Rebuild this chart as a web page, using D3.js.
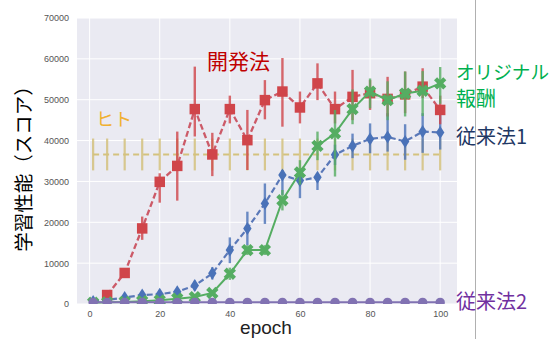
<!DOCTYPE html>
<html><head><meta charset="utf-8">
<script src="https://cdn.jsdelivr.net/npm/d3@7"></script>
<style>body{margin:0;background:#fff}svg{display:block}</style>
</head><body><svg id="c" width="552" height="339"></svg>
<script>
const epochs = [1,5,10,15,20,25,30,35,40,45,50,55,60,65,70,75,80,85,90,95,100];
const xTicks = [0,20,40,60,80,100];
const yTicks = [0,10000,20000,30000,40000,50000,60000,70000];

// 開発法 (red squares)
const devMean = [null,2200,7600,18500,29900,33800,47700,36600,47700,40100,49900,52000,48100,54000,47700,50700,51600,50200,51300,53200,47500];
const devLo   = [null,1700,7100,15700,24800,25300,41000,31300,44200,32800,45200,43400,44200,49900,44200,45000,47500,45900,46700,50400,44000];
const devHi   = [null,2700,8100,21400,32000,42200,58100,41900,51000,47500,54800,60200,52000,58900,52000,57300,54800,55600,56900,57700,51000];

// オリジナル報酬 (green X)
const origMean = [300,400,500,700,900,1300,1700,2700,7400,13200,13200,25400,32200,38700,41800,47700,52000,49900,51500,52200,54000];
const origLo   = [100,200,300,400,600,900,1300,2000,5900,12000,12000,22900,29200,35200,31200,44000,47900,45000,45900,46000,49000];
const origHi   = [500,600,700,1000,1200,1700,2100,3400,8900,14400,14400,27900,35200,42200,47500,52500,55200,54500,56900,57000,58000];

// 従来法1 (blue diamonds)
const conv1Mean = [600,1000,1600,2200,2400,3000,4500,7500,13200,18500,24600,31600,30200,31000,36500,38700,40400,40900,39800,42200,42000];
const conv1Lo   = [300,600,1100,1600,1700,2100,3300,6000,10000,14400,19600,26700,25900,27900,34000,35700,36900,37300,35300,37000,37800];
const conv1Hi   = [900,1400,2100,2800,3100,3900,5700,9000,16300,22600,29500,32800,32400,32000,39000,41700,44200,46700,44000,46700,46500];

// 従来法2 (purple circles)
const conv2Mean = [400,400,400,400,400,400,400,400,400,400,400,400,400,400,400,400,400,400,400,400,400];

// ヒト (human baseline)
const humanMean = epochs.map(() => 36600);
const humanLo = epochs.map(() => 32700);
const humanHi = epochs.map(() => 40500);

const svg = d3.select("#c");
const L = 77, R = 457, T = 18, B = 304;
const x = d3.scaleLinear().domain([-3.6, 104.8]).range([L, R]);
const y = d3.scaleLinear().domain([0, 70000]).range([B, T]);

svg.append("rect").attr("width",552).attr("height",339).attr("fill","#fff");
svg.append("rect").attr("x",L).attr("y",T).attr("width",R-L).attr("height",B-T).attr("fill","#eaeaf2");

// grid
svg.append("g").selectAll("line").data(yTicks).join("line")
  .attr("x1",L).attr("x2",R).attr("y1",d=>y(d)).attr("y2",d=>y(d))
  .attr("stroke","#fff").attr("stroke-width",1);
svg.append("g").selectAll("line").data(xTicks).join("line")
  .attr("y1",T).attr("y2",B).attr("x1",d=>x(d)).attr("x2",d=>x(d))
  .attr("stroke","#fff").attr("stroke-width",1);

// axes
const yAxis = svg.append("g").attr("transform",`translate(${L},0)`)
  .call(d3.axisLeft(y).tickValues(yTicks).tickFormat(d3.format("d")).tickSize(0).tickPadding(8));
const xAxis = svg.append("g").attr("transform",`translate(0,${B})`)
  .call(d3.axisBottom(x).tickValues(xTicks).tickFormat(d3.format("d")).tickSize(0).tickPadding(7));
[yAxis, xAxis].forEach(a => {
  a.select(".domain").remove();
  a.selectAll("text").attr("fill","#555").attr("font-size","9px").attr("font-family","'Liberation Sans', Arial, sans-serif");
});

svg.append("clipPath").attr("id","pc").append("rect").attr("x",L).attr("y",T).attr("width",R-L).attr("height",B-T);
const g = svg.append("g").attr("clip-path","url(#pc)");

function series(mean, lo, hi, color, opts) {
  const pts = epochs.map((e,i)=>({e, m:mean[i], lo: lo?lo[i]:null, hi: hi?hi[i]:null})).filter(d=>d.m!=null);
  const grp = g.append("g");
  if (lo) {
    grp.append("g").selectAll("line").data(pts).join("line")
      .attr("x1",d=>x(d.e)).attr("x2",d=>x(d.e)).attr("y1",d=>y(d.lo)).attr("y2",d=>y(d.hi))
      .attr("stroke",opts.barColor||color).attr("stroke-width",opts.barWidth||2.4).attr("opacity",opts.barOpacity||0.8);
  }
  grp.append("path").datum(pts)
    .attr("d", d3.line().x(d=>x(d.e)).y(d=>y(d.m)))
    .attr("fill","none").attr("stroke",opts.lineColor||color).attr("stroke-width",opts.lineWidth||2.2)
    .attr("stroke-dasharray",opts.dash||null).attr("opacity",opts.lineOpacity||1);
  if (opts.symbol) {
    grp.append("g").selectAll("path").data(pts).join("path")
      .attr("transform",d=>`translate(${x(d.e)},${y(d.m)})${opts.rotate?` rotate(${opts.rotate})`:""}`)
      .attr("d", opts.symbol).attr("fill",color);
  }
}

const thinDiamond = "M0,-6.5L4.2,0L0,6.5L-4.2,0Z";
series(humanMean, humanLo, humanHi, "#d4c27e", {dash:"6,4", lineWidth:2, barWidth:2.2, barOpacity:0.85});
series(conv1Mean, conv1Lo, conv1Hi, "#4a72b8", {dash:"6,3", lineColor:"#5a78b8", lineWidth:2.2, symbol:thinDiamond});
series(devMean, devLo, devHi, "#d0454a", {dash:"6,3", lineColor:"#cc5a68", lineWidth:2.3, symbol:d3.symbol(d3.symbolSquare,110)()});
series(origMean, origLo, origHi, "#55ad62", {lineWidth:2, symbol:d3.symbol(d3.symbolCross,95)(), rotate:45});
series(conv2Mean, null, null, "#8172b2", {lineWidth:2, symbol:d3.symbol(d3.symbolCircle,70)()});

// separator line
svg.append("line").attr("x1",475.5).attr("x2",475.5).attr("y1",0).attr("y2",339).attr("stroke","#b0b0b0").attr("stroke-width",1);

const jp = "'Noto Sans CJK JP', sans-serif";
function label(txt, xx, yy, size, color) {
  return svg.append("text").attr("x",xx).attr("y",yy).attr("font-size",size+"px")
    .attr("font-family",jp).attr("fill",color).attr("dominant-baseline","central").text(txt);
}
label("開発法", 207, 60, 21, "#c00000");
label("ヒト", 96, 118, 18, "#f0b030");
label("オリジナル", 456, 70, 18.6, "#00b050");
label("報酬", 456, 97, 20, "#00b050");
label("従来法1", 456, 135, 20, "#1f3864");
label("従来法2", 456, 300, 20, "#7030a0");

svg.append("text").attr("transform","translate(22.5,164) rotate(-90)")
  .attr("text-anchor","middle").attr("dominant-baseline","central")
  .attr("font-family",jp).attr("font-size","19.5px").attr("fill","#000").text("学習性能（スコア）");
svg.append("text").attr("x",266).attr("y",334).attr("text-anchor","middle")
  .attr("font-family","'Liberation Sans', Arial, sans-serif").attr("font-size","19px").attr("fill","#222").text("epoch");
</script></body></html>
